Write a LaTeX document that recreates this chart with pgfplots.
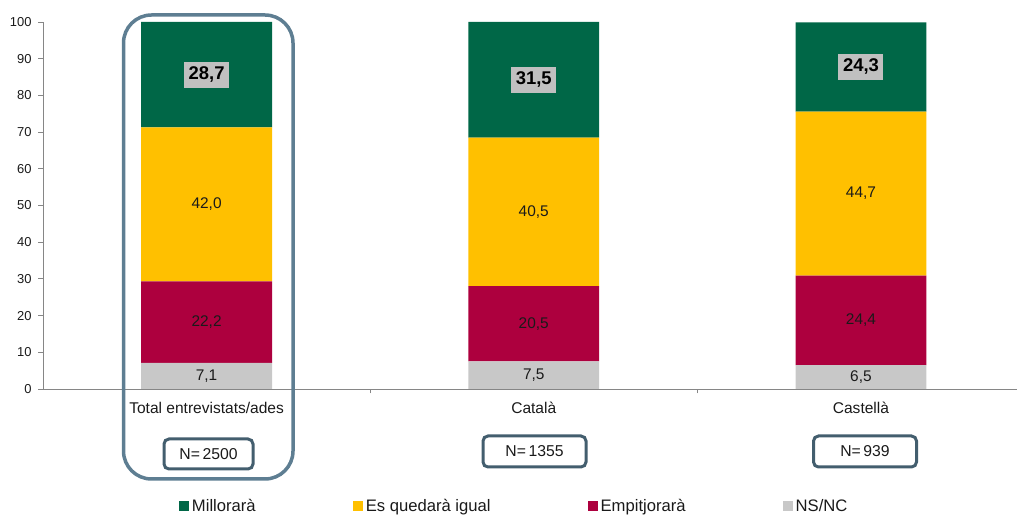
\documentclass[border=0pt]{standalone}
\usepackage{pgfplots}
\pgfplotsset{compat=1.18}
\usepackage{pgfplotstable}
\usepackage{fontspec}
\setmainfont{Liberation Sans}
\definecolor{cgreen}{RGB}{0,103,71}
\definecolor{cyellow}{RGB}{255,192,0}
\definecolor{ccrimson}{RGB}{173,0,62}
\definecolor{cgray}{RGB}{200,200,200}
\definecolor{labgray}{RGB}{192,192,192}
\definecolor{axisgray}{RGB}{134,134,134}
\definecolor{frameblue}{RGB}{94,126,146}
\definecolor{boxslate}{RGB}{67,94,110}
\definecolor{txt}{RGB}{26,26,26}

\pgfplotstableread{
x nsnc empit igual millo
0 7.1 22.2 42.0 28.7
1 7.5 20.5 40.5 31.5
2 6.5 24.4 44.7 24.3
}\datatable

\pgfplotstableread{
x y lab
0 3.55 {7,1}
0 18.2 {22,2}
0 50.3 {42,0}
1 3.75 {7,5}
1 17.75 {20,5}
1 48.25 {40,5}
2 3.25 {6,5}
2 18.7 {24,4}
2 53.25 {44,7}
}\midlabels

\pgfplotstableread{
x y lab
0 85.65 {28,7}
1 84.25 {31,5}
2 87.75 {24,3}
}\toplabels

\pgfplotsset{
  common/.style={
    scale only axis,
    width=974bp, height=367bp,
    at={(43bp,127bp)}, anchor=south west,
    xmin=-0.5, xmax=2.477,
    ymin=0, ymax=100,
    clip=false,
  }
}

\begin{document}
\begin{tikzpicture}
\path[use as bounding box] (0,0) rectangle (1017bp,516bp);
\begin{axis}[
  common,
  ybar stacked,
  bar width=0.4,
  axis x line*=bottom,
  axis y line*=left,
  axis line style={-, draw=axisgray, line width=0.9bp},
  tick align=outside,
  ytick={0,10,...,100},
  major tick length=4.5bp,
  tick style={draw=axisgray, line width=0.9bp},
  yticklabel style={font=\fontsize{13}{15}\selectfont, text=txt, xshift=-3.5bp},
  /pgf/number format/assume math mode=true,
  xtick={0,1,2},
  xticklabels={Total entrevistats/ades, Català, Castellà},
  x tick style={draw=none},
  xticklabel style={font=\fontsize{15.6}{18}\selectfont, text=txt, yshift=-5bp},
  extra x ticks={0.5,1.5},
  extra x tick labels={},
  extra x tick style={x tick style={draw=axisgray, line width=0.9bp}},
]
\addplot[fill=cgray, draw=none] table[x=x, y=nsnc] {\datatable};
\addplot[fill=ccrimson, draw=none] table[x=x, y=empit] {\datatable};
\addplot[fill=cyellow, draw=none] table[x=x, y=igual] {\datatable};
\addplot[fill=cgreen, draw=none] table[x=x, y=millo] {\datatable};
\end{axis}

\begin{axis}[
  common,
  hide axis,
  legend columns=4,
  legend style={at={(0.1396,-0.3188)}, anchor=west, draw=none, fill=none,
    inner sep=0pt, outer sep=0pt,
    font=\fontsize{16.7}{19}\selectfont,
    nodes={inner sep=0pt, text=txt},
    /tikz/every even column/.append style={column sep=97bp},
    /tikz/every odd column/.append style={column sep=2.5bp}},
  legend image code/.code={\fill[#1] (0bp,-5bp) rectangle (10.5bp,5.5bp);},
]
\addlegendimage{fill=cgreen, draw=none}
\addlegendentry{Millorarà}
\addlegendimage{fill=cyellow, draw=none}
\addlegendentry{Es quedarà igual}
\addlegendimage{fill=ccrimson, draw=none}
\addlegendentry{Empitjorarà}
\addlegendimage{fill=cgray, draw=none}
\addlegendentry{NS/NC}
\addplot[draw=none, mark=none, forget plot, nodes near coords, point meta=explicit symbolic,
  nodes near coords style={anchor=center, font=\fontsize{15.5}{18}\selectfont, text=txt}]
  table[x=x, y=y, meta=lab] {\midlabels};
\addplot[draw=none, mark=none, forget plot, nodes near coords, point meta=explicit symbolic,
  nodes near coords style={anchor=center, font=\fontsize{18.5}{21}\selectfont\bfseries, text=black,
    fill=labgray, minimum width=45bp, minimum height=26bp, inner sep=0pt}]
  table[x=x, y=y, meta=lab] {\toplabels};
\end{axis}

% frame around the first category
\draw[frameblue, line width=3.5bp, rounded corners=28bp] (123.5bp,501bp) rectangle (293bp,37bp);
% sample size boxes
\node[draw=boxslate, line width=3bp, rounded corners=5bp, minimum width=89bp, minimum height=30bp,
  inner sep=0pt, font=\fontsize{15.8}{18}\selectfont, text=txt] at (208.5bp,62bp) {N=\,2500};
\node[draw=boxslate, line width=3bp, rounded corners=5bp, minimum width=103bp, minimum height=31bp,
  inner sep=0pt, font=\fontsize{15.8}{18}\selectfont, text=txt] at (534.5bp,64.5bp) {N=\,1355};
\node[draw=boxslate, line width=3bp, rounded corners=5bp, minimum width=103bp, minimum height=31bp,
  inner sep=0pt, font=\fontsize{15.8}{18}\selectfont, text=txt] at (865bp,64.5bp) {N=\,939};
\end{tikzpicture}
\end{document}
